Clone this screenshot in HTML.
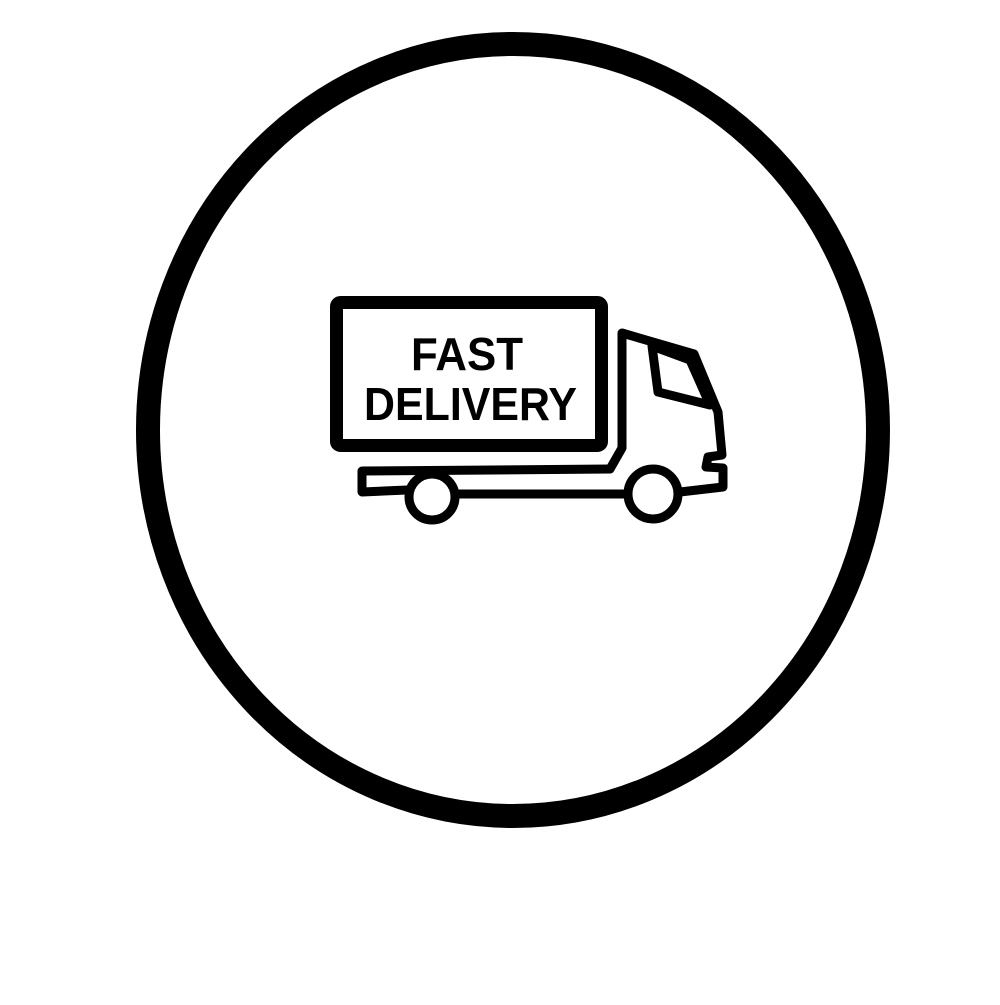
<!DOCTYPE html>
<html><head><style>html,body{margin:0;padding:0;background:#fff}</style></head>
<body>
<svg width="1000" height="1000" viewBox="0 0 1000 1000" xmlns="http://www.w3.org/2000/svg">
<rect width="1000" height="1000" fill="#fff"/>
<ellipse cx="513" cy="430" rx="365" ry="386" fill="none" stroke="#000" stroke-width="24"/>
<g fill="none" stroke="#000" stroke-width="9" stroke-linejoin="round" stroke-linecap="round">
<rect x="336.5" y="302.5" width="265" height="143" rx="4" stroke-width="13"/>
<path d="M610 469 L622 448 L622 333 L694 354 L718 412 L722 455 L708 457 L706 467 L723 468 L723 487 L680 492"/>
<path d="M652 346 L690 360 L710 405 L658 392 Z"/>
<path d="M610 469 L362 471 L362 492 L407 490"/>
<path d="M458 494 L627 494"/>
<circle cx="432" cy="497" r="23"/>
<circle cx="653" cy="494" r="25"/>
</g>
<g font-family="Liberation Sans, sans-serif" font-weight="bold" fill="#000">
<text x="411" y="370" font-size="46" textLength="112" lengthAdjust="spacingAndGlyphs">FAST</text>
<text x="364" y="420" font-size="46" textLength="213" lengthAdjust="spacingAndGlyphs">DELIVERY</text>
</g>
</svg>
</body></html>
